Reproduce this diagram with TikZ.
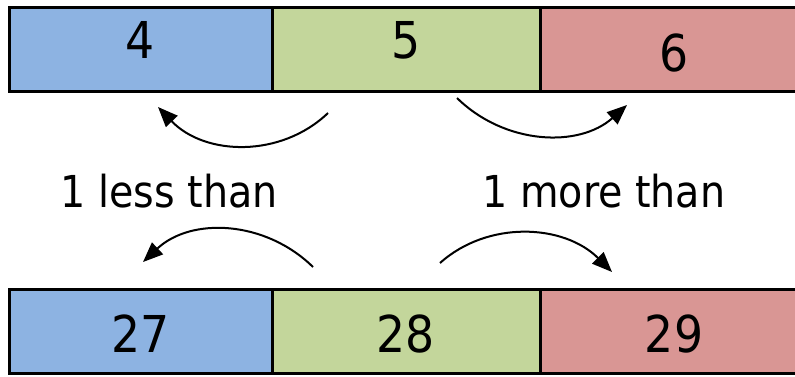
\documentclass[tikz,border=0pt]{standalone}
\usepackage{fontspec}
\setmainfont{DejaVu Sans Condensed}
\usetikzlibrary{positioning,arrows.meta}
\definecolor{lessblue}{HTML}{8DB3E2}
\definecolor{samegreen}{HTML}{C3D69B}
\definecolor{morered}{HTML}{D99694}
\begin{document}
\begin{tikzpicture}[x=0.5pt,y=-0.5pt,
    cell/.style={draw=black,line width=1.5pt,outer sep=0pt,inner sep=0pt,minimum height=42pt},
    num/.style={font=\fontsize{25.4}{30}\selectfont},
    note/.style={font=\fontsize{22}{26}\selectfont,anchor=base},
    hop/.style={line width=1pt,-{Triangle[length=10pt,width=8pt]}}]
    \useasboundingbox (0,0) rectangle (795,376);
    \node[cell,fill=lessblue,minimum width=131.5pt,anchor=west] (b4) at (9,49) {};
    \node[cell,fill=samegreen,minimum width=134pt,right=0pt of b4] (b5) {};
    \node[cell,fill=morered,minimum width=134pt,right=0pt of b5] (b6) {};
    \node[cell,fill=lessblue,minimum width=131.5pt,anchor=west] (b27) at (9,331.5) {};
    \node[cell,fill=samegreen,minimum width=134pt,right=0pt of b27] (b28) {};
    \node[cell,fill=morered,minimum width=134pt,right=0pt of b28] (b29) {};
    \node[num] (n4) at ([yshift=4.5pt]b4.center) {4};
    \node[num] (n5) at ([yshift=4.5pt]b5.center) {5};
    \node[num] (n6) at ([yshift=-2.2pt]b6.center) {6};
    \node[num] (n27) at ([yshift=-1.3pt]b27.center) {27};
    \node[num] (n28) at ([yshift=-1.3pt]b28.center) {28};
    \node[num] (n29) at ([yshift=-1.3pt]b29.center) {29};
    \node[note] (less) at (169,207) {1 less than};
    \node[note] (more) at (604,207) {1 more than};
    \coordinate (tl1) at (328,113);
    \coordinate (tl2) at (158,107);
    \coordinate (tr1) at (457,98);
    \coordinate (tr2) at (627,105);
    \coordinate (bl1) at (313,267);
    \coordinate (bl2) at (143,262);
    \coordinate (br1) at (440,263);
    \coordinate (br2) at (612,272);
    \draw[hop] (tl1) .. controls (281,158) and (205,156) .. (tl2);
    \draw[hop] (tr1) .. controls (505,145) and (579,148) .. (tr2);
    \draw[hop] (bl1) .. controls (265,220) and (191,217) .. (bl2);
    \draw[hop] (br1) .. controls (488,220) and (564,224) .. (br2);
\end{tikzpicture}
\end{document}
